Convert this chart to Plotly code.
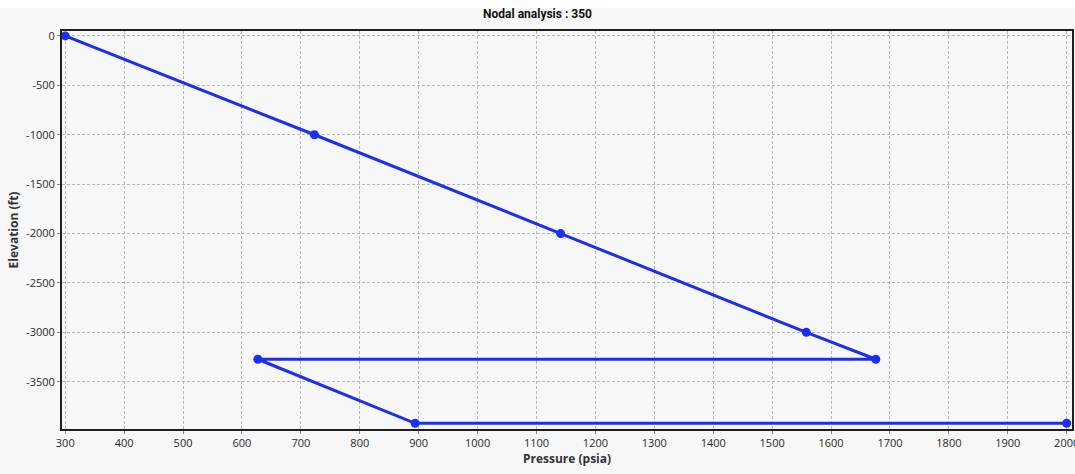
import plotly.graph_objects as go

# Pressure traverse points (pressure in psia, elevation in ft)
pressure = [300, 723, 1141, 1558, 1676, 627, 894, 2000]
elevation = [0, -1000, -2000, -3000, -3272, -3272, -3920, -3920]

x_ticks = list(range(300, 2001, 100))
y_ticks = list(range(0, -3501, -500))

BG = "#f7f7f7"
FONT = "Open Sans, Roboto, sans-serif"

fig = go.Figure()
fig.add_trace(go.Scatter(
    x=pressure, y=elevation,
    mode="lines+markers",
    line=dict(color="#1a2ff0", width=3),
    marker=dict(color="#1a2ff0", size=9),
    cliponaxis=False,
    showlegend=False,
))

axis_common = dict(
    showgrid=True,
    gridcolor="#b8b8b8",
    gridwidth=1,
    griddash="3px,2px",
    showline=True,
    linecolor="#1e1e1e",
    linewidth=2,
    mirror=True,
    ticks="outside",
    ticklen=3,
    tickcolor="#888888",
    tickfont=dict(family=FONT, size=11, color="#2a2a2a"),
    ticklabeloverflow="allow",
    automargin=False,
    zeroline=False,
)

fig.update_xaxes(
    **axis_common,
    range=[294.5, 2009],
    tickvals=x_ticks,
    ticktext=[str(v) for v in x_ticks],
    title=dict(text="<b>Pressure (psia)</b>", standoff=3,
               font=dict(family=FONT, size=12, color="#333333")),
)
fig.update_yaxes(
    **axis_common,
    range=[-3978, 50],
    tickvals=y_ticks,
    ticktext=[str(v) for v in y_ticks],
    title=dict(text="<b>Elevation (ft)</b>", standoff=5,
               font=dict(family=FONT, size=12, color="#333333")),
)

fig.update_layout(
    width=1075, height=474,
    margin=dict(l=62, r=3, t=31, b=45, autoexpand=False),
    paper_bgcolor=BG,
    plot_bgcolor=BG,
    title=dict(text="<b>Nodal analysis : 350</b>", x=0.5, xref="container",
               xanchor="center", y=1 - 14 / 474, yanchor="middle",
               font=dict(family="Roboto, sans-serif", size=12, color="#111111")),
    shapes=[dict(type="rect", xref="paper", yref="paper",
                 x0=-0.1, x1=1.1, y0=1 + 23 / 398, y1=1 + 40 / 398,
                 fillcolor="white", line=dict(width=0), layer="below")],
)

fig.write_html("out.html")
